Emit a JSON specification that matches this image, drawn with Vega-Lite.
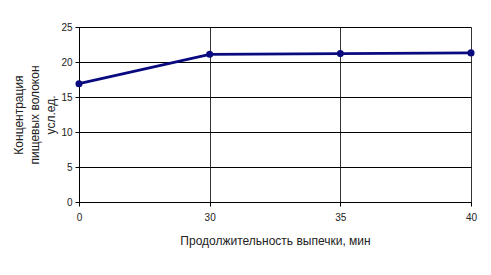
{
  "$schema": "https://vega.github.io/schema/vega-lite/v6.json",
  "autosize": "none",
  "width": 392,
  "height": 175,
  "padding": {"left": 79, "top": 27, "right": 20, "bottom": 73},
  "background": "white",
  "config": {"view": {"stroke": null}, "font": "Liberation Sans"},
  "data": {"values": [
    {"t": "0", "c": 16.9},
    {"t": "30", "c": 21.1},
    {"t": "35", "c": 21.2},
    {"t": "40", "c": 21.3}
  ]},
  "mark": {"type": "line", "color": "#0a0a80", "strokeWidth": 2.8, "point": {"filled": true, "size": 50, "color": "#0a0a80"}},
  "encoding": {
    "x": {"field": "t", "type": "ordinal", "sort": ["0", "30", "35", "40"],
      "scale": {"type": "point", "padding": 0},
      "axis": {"title": "Продолжительность выпечки, мин", "labelAngle": 0, "labelFontSize": 10, "labelColor": "#222", "titleFontSize": 12, "titleFontWeight": "normal", "titleColor": "#222", "titlePadding": 13, "labelPadding": 6,
        "grid": true, "gridColor": "#333", "gridWidth": 1, "domainColor": "#000", "tickColor": "#000", "tickSize": 4}},
    "y": {"field": "c", "type": "quantitative",
      "scale": {"domain": [0, 25], "nice": false, "zero": true},
      "axis": {"title": ["Концентрация", "пищевых волокон", "усл.ед."], "values": [0, 5, 10, 15, 20, 25], "labelFontSize": 10, "labelColor": "#222", "titleFontSize": 12, "titleFontWeight": "normal", "titleColor": "#222", "titlePadding": 3, "titleLineHeight": 16,
        "grid": true, "gridColor": "#000", "gridWidth": 1.2, "domainColor": "#000", "tickColor": "#000", "tickSize": 4, "labelPadding": 3}}
  }
}
